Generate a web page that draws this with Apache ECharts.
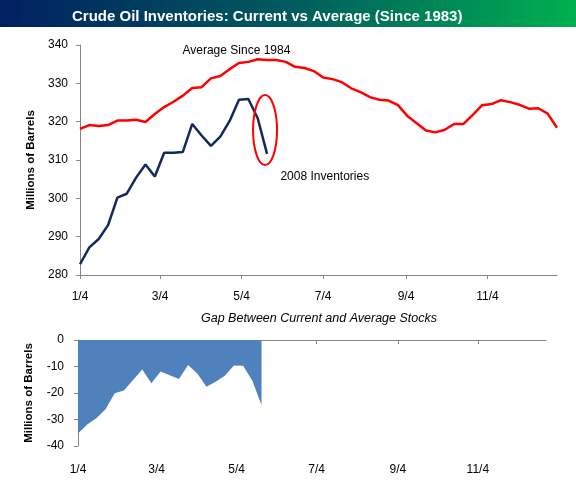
<!DOCTYPE html>
<html>
<head>
<meta charset="utf-8">
<script src="https://cdn.jsdelivr.net/npm/echarts@6/dist/echarts.min.js"></script>
<style>html,body{margin:0;padding:0;background:#fff}#c{width:576px;height:500px}</style>
</head>
<body>
<div id="c"></div>
<script>
var titleText = 'Crude Oil Inventories: Current vs Average (Since 1983)';
var subTitleText = 'Gap Between Current and Average Stocks';
var yAxisName = 'Millions of Barrels';
var avgLabel = 'Average Since 1984';
var curLabel = '2008 Inventories';
var startDate = [2008, 1, 4];
var tickLabels = ['1/4', '3/4', '5/4', '7/4', '9/4', '11/4'];
var average = [318.1, 319.1, 318.9, 319.1, 320.3, 320.3, 320.5, 319.9, 322.0, 323.8,
  325.2, 326.8, 328.8, 329.0, 331.3, 331.9, 333.7, 335.3, 335.6, 336.3,
  336.1, 336.1, 335.6, 334.3, 334.0, 333.2, 331.5, 331.1, 330.3, 328.7,
  327.7, 326.4, 325.7, 325.5, 324.3, 321.5, 319.6, 317.7, 317.2, 317.9,
  319.4, 319.4, 321.8, 324.3, 324.6, 325.6, 325.1, 324.4, 323.4, 323.5,
  322.1, 318.4];
var current2008 = [282.8, 287.2, 289.4, 293.0, 300.2, 301.2, 305.4, 308.8, 305.7, 311.9,
  311.9, 312.1, 319.4, 316.4, 313.7, 316.1, 320.2, 325.7, 325.9, 320.9, 311.6];

var FONT = 'Liberation Sans';
var t0 = new Date(startDate[0], startDate[1] - 1, startDate[2]).getTime();
function dayOf(label) {
  var p = label.split('/');
  return Math.round((new Date(startDate[0], +p[0] - 1, +p[1]).getTime() - t0) / 86400000);
}
var tickDays = tickLabels.map(dayOf);
var lastDay = 7 * (average.length - 1);
function labelFor(v) { var i = tickDays.indexOf(Math.round(v)); return i >= 0 ? tickLabels[i] : ''; }

var avgData = average.map(function (v, i) { return [7 * i, v]; });
var curData = current2008.map(function (v, i) { return [7 * i, v]; });
var gapData = current2008.map(function (v, i) { return [7 * i, +(v - average[i]).toFixed(1)]; });

var axisColor = '#868686';
var chart = echarts.init(document.getElementById('c'));
var option = {
  animation: false,
  backgroundColor: '#fff',
  title: {
    text: titleText, left: 67, top: 4,
    textStyle: { color: '#fff', fontFamily: FONT, fontWeight: 'bold', fontSize: 15 }
  },
  grid: [
    { left: 80, right: 19, top: 45, bottom: 225 },
    { left: 78, right: 30, top: 340, bottom: 54 }
  ],
  xAxis: [
    { type: 'value', gridIndex: 0, min: 0, max: lastDay, splitLine: { show: false },
      axisLine: { onZero: false, lineStyle: { color: axisColor } },
      axisTick: { customValues: tickDays, length: 4, lineStyle: { color: axisColor } },
      axisLabel: { customValues: tickDays, formatter: labelFor, margin: 16, color: '#000', fontFamily: FONT, fontSize: 12 } },
    { type: 'value', gridIndex: 1, min: 0, max: lastDay, position: 'top', splitLine: { show: false },
      axisLine: { onZero: false, lineStyle: { color: axisColor } },
      axisTick: { customValues: tickDays, inside: true, length: 4, lineStyle: { color: axisColor } },
      axisLabel: { show: false } },
    { type: 'value', gridIndex: 1, min: 0, max: lastDay, position: 'bottom', splitLine: { show: false },
      axisLine: { show: false }, axisTick: { show: false },
      axisLabel: { customValues: tickDays, formatter: labelFor, margin: 18, color: '#000', fontFamily: FONT, fontSize: 12 } }
  ],
  yAxis: [
    { type: 'value', gridIndex: 0, min: 280, max: 340, interval: 10, splitLine: { show: false },
      name: yAxisName, nameLocation: 'middle', nameGap: 42, nameRotate: 90,
      nameTextStyle: { fontFamily: FONT, fontWeight: 'bold', fontSize: 11.5, color: '#000' },
      axisLine: { show: true, lineStyle: { color: axisColor } },
      axisTick: { show: true, length: 4, lineStyle: { color: axisColor } },
      axisLabel: { margin: 12, color: '#000', fontFamily: FONT, fontSize: 12 } },
    { type: 'value', gridIndex: 1, min: -40, max: 0, interval: 10, splitLine: { show: false },
      name: yAxisName, nameLocation: 'middle', nameGap: 43, nameRotate: 90,
      nameTextStyle: { fontFamily: FONT, fontWeight: 'bold', fontSize: 11.5, color: '#000' },
      axisLine: { show: true, lineStyle: { color: axisColor } },
      axisTick: { show: true, length: 4, lineStyle: { color: axisColor } },
      axisLabel: { margin: 14, color: '#000', fontFamily: FONT, fontSize: 12 } }
  ],
  series: [
    { name: avgLabel, type: 'line', xAxisIndex: 0, yAxisIndex: 0, data: avgData, showSymbol: false,
      lineStyle: { color: '#ff0000', width: 2.5 }, itemStyle: { color: '#ff0000' }, z: 3 },
    { name: curLabel, type: 'line', xAxisIndex: 0, yAxisIndex: 0, data: curData, showSymbol: false,
      lineStyle: { color: '#13285c', width: 2.5 }, itemStyle: { color: '#13285c' }, z: 4 },
    { name: 'Gap', type: 'line', xAxisIndex: 1, yAxisIndex: 1, data: gapData, showSymbol: false,
      lineStyle: { width: 0 }, areaStyle: { color: '#4f81bd', opacity: 1, origin: 0 }, itemStyle: { color: '#4f81bd' } }
  ]
};
chart.setOption(option);

var pAvg = chart.convertToPixel({ gridIndex: 0 }, [76.7, 338.5]);
var pCur = chart.convertToPixel({ gridIndex: 0 }, [150, 305.6]);
var pEl = chart.convertToPixel({ gridIndex: 0 }, [138.5, 317.8]);
var pSub = chart.convertToPixel({ gridIndex: 1 }, [180, 0]);
chart.setOption({
  graphic: [
    { type: 'rect', z: -1, shape: { x: 0, y: 0, width: 576, height: 27 },
      style: { fill: new echarts.graphic.LinearGradient(0, 0, 1, 0, [
        { offset: 0, color: '#002060' }, { offset: 0.5, color: '#005a5e' }, { offset: 1, color: '#00b050' }]) } },
    { type: 'ellipse', shape: { cx: pEl[0], cy: pEl[1], rx: 12, ry: 35 },
      style: { fill: 'none', stroke: '#ff0000', lineWidth: 2 }, z: 10 },
    { type: 'text', x: pAvg[0], y: pAvg[1], style: { text: avgLabel, fill: '#000', font: '12px ' + FONT, textVerticalAlign: 'middle' } },
    { type: 'text', x: pCur[0], y: pCur[1], style: { text: curLabel, fill: '#000', font: '12px ' + FONT, textVerticalAlign: 'middle' } },
    { type: 'text', x: 319, y: pSub[1] - 21, style: { text: subTitleText, fill: '#000', font: 'italic 12.5px ' + FONT, textAlign: 'center', textVerticalAlign: 'middle' } }
  ]
});
</script>
</body>
</html>
